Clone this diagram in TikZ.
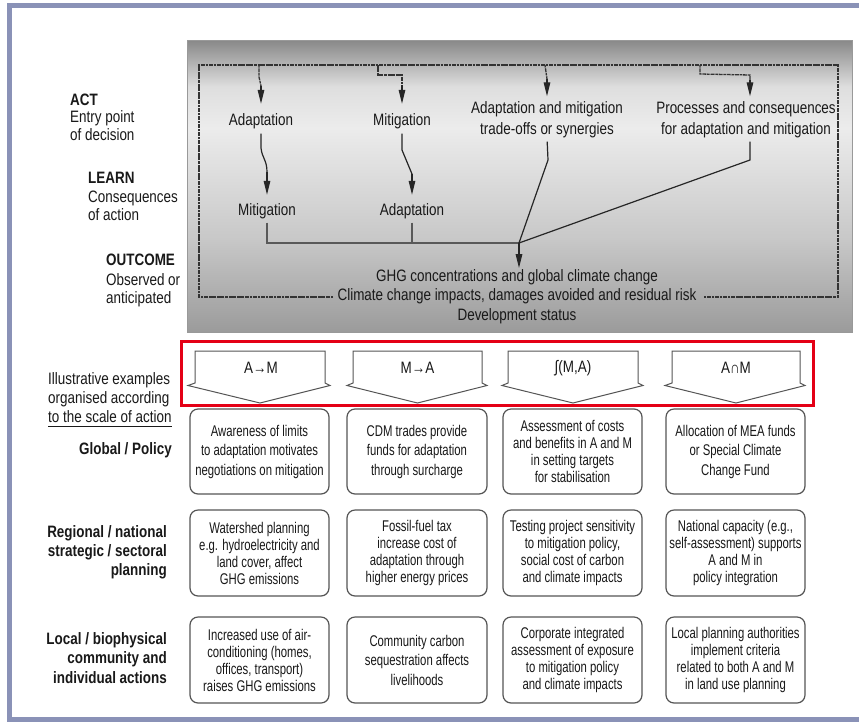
\documentclass[tikz,border=0pt]{standalone}
\usepackage{fontspec}
\usetikzlibrary{arrows.meta}
\newfontfamily\mainf{Liberation Sans}[FakeStretch=0.815]
\newfontfamily\boxf{Liberation Sans}[FakeStretch=0.73]
\definecolor{framecol}{RGB}{138,146,183}
\definecolor{boxgray}{RGB}{85,85,85}
\definecolor{redcol}{RGB}{228,0,22}
\definecolor{txt}{RGB}{25,25,25}
\definecolor{sh1}{RGB}{136,136,136}
\definecolor{sh2}{RGB}{222,222,222}
\definecolor{sh3}{RGB}{236,236,236}
\definecolor{sh4}{RGB}{200,200,200}
\definecolor{sh5}{RGB}{155,155,155}
\pgfdeclareverticalshading{gbox}{100bp}{color(0bp)=(sh5); color(25bp)=(sh5); color(41bp)=(sh4); color(60bp)=(sh3); color(67bp)=(sh2); color(75bp)=(sh1); color(100bp)=(sh1)}
\begin{document}
\begin{tikzpicture}[x=1pt,y=-1pt,
  toptxt/.style={font=\mainf\fontsize{16.5}{20.5}\selectfont, inner sep=0pt, align=center, text=txt},
  outtxt/.style={font=\mainf\fontsize{16.5}{19.5}\selectfont, inner sep=0pt, align=center, text=txt},
  lbl/.style={font=\mainf\fontsize{16.5}{19}\selectfont, inner sep=0pt, text=txt},
  lblb/.style={font=\mainf\bfseries\fontsize{16.5}{19}\selectfont, inner sep=0pt, text=txt},
  ebox/.style={draw=boxgray, line width=1.2pt, rounded corners=8pt, minimum width=139pt, minimum height=85pt, align=center, inner sep=0pt, text=txt, font=\boxf\fontsize{15.5}{19.5}\selectfont},
  efour/.style={font=\boxf\fontsize{15.5}{17}\selectfont},
  ashape/.style={draw=boxgray, line width=1pt, fill=white},
  atxt/.style={font=\mainf\fontsize{16.5}{19}\selectfont, inner sep=0pt, text=txt},
  dsh/.style={draw=black!80, line width=1.3pt, dash pattern=on 2.5pt off 0.8pt on 4pt off 0.8pt},
  conn/.style={draw=black!85, line width=1.2pt},
  bar/.style={draw=black!65, line width=2.4pt},
  tip/.style={conn, -{Triangle[length=14pt,width=6.5pt]}}
]
\useasboundingbox (0,0) rectangle (859,721);
\fill[white] (0,0) rectangle (859,721);
\draw[framecol, line width=5pt] (862,5.5) -- (9.5,5.5) -- (9.5,719.5) -- (862,719.5);

% gray panel
\shade[shading=gbox, draw=black!40, line width=0.6pt] (187,40) rectangle (852,332);
\draw[dsh] (333,297) -- (199,297) -- (199,65) -- (838,65) -- (838,297) -- (703,297);

% left labels top
\node[lblb, anchor=base west] (act1) at (70,105) {ACT};
\node[lbl, anchor=base west] (act2) at (70,122) {Entry point};
\node[lbl, anchor=base west] (act3) at (70,140) {of decision};
\node[lblb, anchor=base west] (lrn1) at (88,183) {LEARN};
\node[lbl, anchor=base west] (lrn2) at (88,202) {Consequences};
\node[lbl, anchor=base west] (lrn3) at (88,220) {of action};
\node[lblb, anchor=base west] (out1) at (106,265) {OUTCOME};
\node[lbl, anchor=base west] (out2) at (106,285) {Observed or};
\node[lbl, anchor=base west] (out3) at (106,303) {anticipated};

% panel texts
\node[toptxt, anchor=base] (A1) at (261,125) {Adaptation};
\node[toptxt, anchor=base] (M1) at (402,125) {Mitigation};
\node[toptxt] (AM) at (547,119.5) {Adaptation and mitigation\\trade-offs or synergies};
\node[toptxt] (PC) at (746,119.5) {Processes and consequences\\for adaptation and mitigation};
\node[toptxt, anchor=base] (M2) at (267,215) {Mitigation};
\node[toptxt, anchor=base] (A2) at (412,215) {Adaptation};
\node[outtxt] (OUT) at (517,296.5) {GHG concentrations and global climate change\\Climate change impacts, damages avoided and residual risk\\Development status};

% entry arrows
\coordinate (d1) at (259,65);
\coordinate (e1) at (261,86);
\draw[dsh] (d1) -- (259,77) -- (e1);
\draw[tip, shorten >=9pt] (e1) -- (A1.north);
\coordinate (d2) at (378,65);
\coordinate (e2) at (402,85);
\draw[dsh] (d2) -- (378,75) -- (402,75) -- (e2);
\draw[tip, shorten >=9pt] (e2) -- (M1.north);
\coordinate (d3) at (545,65);
\coordinate (e3) at (547,79);
\draw[dsh] (d3) -- (e3);
\draw[tip, shorten >=5pt] (e3) -- (AM.north);
\coordinate (d4) at (700,65);
\coordinate (e4) at (750,80);
\draw[dsh] (d4) -- (700,74) -- (750,75) -- (e4);
\draw[tip, shorten >=5pt] (e4) -- (e4 |- PC.north);

% learn arrows
\coordinate (k1) at (267,172);
\draw[conn, shorten <=5pt] (A1.south) -- (261,148) .. controls (262,158) and (267,160) .. (k1);
\draw[tip, shorten >=8pt] (k1) -- (M2.north);
\coordinate (k2) at (412,174);
\draw[conn, shorten <=5pt] (M1.south) -- (402,150) -- (k2);
\draw[tip, shorten >=8pt] (k2) -- (A2.north);

% outcome connectors
\coordinate (j) at (519,243);
\draw[bar, shorten <=4pt] (M2.south) -- (M2.south |- j) -- (j);
\draw[bar, shorten <=4pt] (A2.south) -- (A2.south |- j);
\draw[conn, shorten <=4pt] (AM.south -| e3) -- (548,160) -- (j);
\coordinate (p4) at (750,160);
\draw[conn, shorten <=4pt] (p4 |- PC.south) -- (p4) -- (j);
\draw[tip, shorten >=1pt] (j) -- (j |- OUT.north);

% lower left labels
\node[lbl, anchor=base west] (ill1) at (48,384) {Illustrative examples};
\node[lbl, anchor=base west] (ill2) at (48,403) {organised according};
\node[lbl, anchor=base west] (ill3) at (48,422) {to the scale of action};
\draw[txt, line width=1pt] ([yshift=-4pt]ill3.base west) -- ([yshift=-4pt]ill3.base east);
\node[lblb, anchor=base east] (glob) at (172,454) {Global / Policy};
\node[lblb, anchor=base east] (reg1) at (167,537) {Regional / national};
\node[lblb, anchor=base east] (reg2) at (167,556) {strategic / sectoral};
\node[lblb, anchor=base east] (reg3) at (167,575) {planning};
\node[lblb, anchor=base east] (loc1) at (167,644) {Local / biophysical};
\node[lblb, anchor=base east] (loc2) at (167,663) {community and};
\node[lblb, anchor=base east] (loc3) at (167,683) {individual actions};

% arrow shapes
\draw[ashape] (195,351) -- (325,351) -- (325,383) -- (330,385.5) -- (260,403) -- (188,385.5) -- (195,383) -- cycle;
\draw[ashape] (353,351) -- (482,351) -- (482,383) -- (487,385.5) -- (417.5,403) -- (347,385.5) -- (353,383) -- cycle;
\draw[ashape] (508,351) -- (638,351) -- (638,383) -- (643,385.5) -- (573,403) -- (502,385.5) -- (508,383) -- cycle;
\draw[ashape] (672,351) -- (800,351) -- (800,383) -- (805,385.5) -- (736,403) -- (665,385.5) -- (672,383) -- cycle;
\node[atxt] (s1) at (261,368) {A→M};
\node[atxt] (s2) at (417.5,368) {M→A};
\node[atxt] (s3) at (573,368) {∫(M,A)};
\node[atxt] (s4) at (736,368) {A∩M};
\draw[redcol, line width=3pt] (181.5,341.5) rectangle (813.5,405.5);

% example boxes
\node[ebox] (g1) at (259.5,451.5) {Awareness of limits\\to adaptation motivates\\negotiations on mitigation};
\node[ebox, minimum width=140pt] (g2) at (417,451.5) {CDM trades provide\\funds for adaptation\\through surcharge};
\node[ebox, efour] (g3) at (572.5,451.5) {Assessment of costs\\and benefits in A and M\\in setting targets\\for stabilisation};
\node[ebox] (g4) at (735.5,451.5) {Allocation of MEA funds\\or Special Climate\\Change Fund};

\node[ebox, efour, minimum height=86pt] (r1) at (259.5,553) {Watershed planning\\e.g. hydroelectricity and\\land cover, affect\\GHG emissions};
\node[ebox, efour, minimum height=86pt, minimum width=140pt] (r2) at (417,553) {Fossil-fuel tax\\increase cost of\\adaptation through\\higher energy prices};
\node[ebox, efour, minimum height=86pt] (r3) at (572.5,553) {Testing project sensitivity\\to mitigation policy,\\social cost of carbon\\and climate impacts};
\node[ebox, efour, minimum height=86pt] (r4) at (735.5,553) {National capacity (e.g.,\\self-assessment) supports\\A and M in\\policy integration};

\node[ebox, efour, minimum height=86pt] (l1) at (259.5,660) {Increased use of air-\\conditioning (homes,\\offices, transport)\\raises GHG emissions};
\node[ebox, minimum height=86pt, minimum width=140pt] (l2) at (417,660) {Community carbon\\sequestration affects\\livelihoods};
\node[ebox, efour, minimum height=86pt] (l3) at (572.5,660) {Corporate integrated\\assessment of exposure\\to mitigation policy\\and climate impacts};
\node[ebox, efour, minimum height=86pt] (l4) at (735.5,660) {Local planning authorities\\implement criteria\\related to both A and M\\in land use planning};
\end{tikzpicture}
\end{document}
